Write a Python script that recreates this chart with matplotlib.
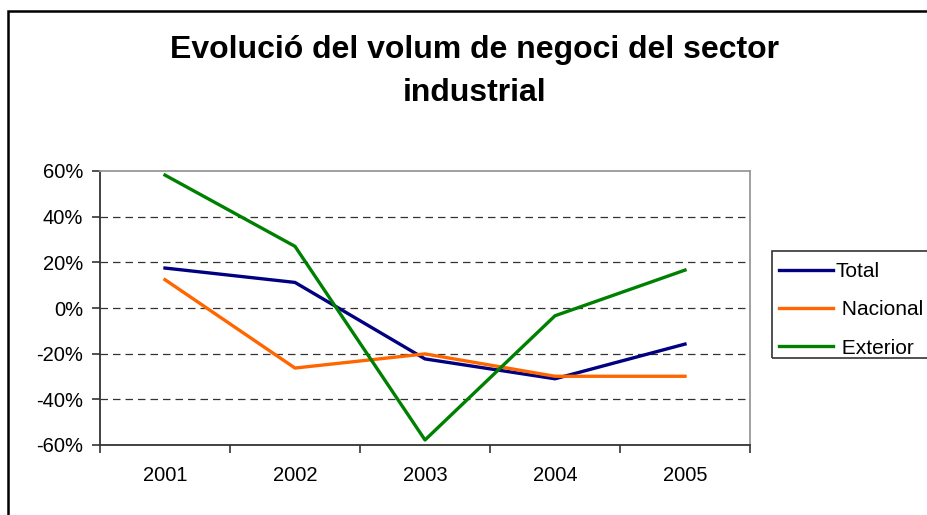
import matplotlib.pyplot as plt
from matplotlib.patches import Rectangle
from matplotlib.ticker import FixedLocator

plt.rcParams['font.family'] = ['Liberation Sans', 'DejaVu Sans']

years = ['2001', '2002', '2003', '2004', '2005']
total = [17.5, 11.2, -22.3, -31.0, -15.8]
nacional = [12.4, -26.3, -20.1, -29.9, -29.9]
exterior = [58.2, 27.0, -57.8, -3.4, 16.6]

W, H = 928, 515
fig = plt.figure(figsize=(W / 100, H / 100), dpi=100)

# outer chart border (right and bottom edges fall outside the picture)
fig.patches.append(Rectangle((8 / W, -0.05), 1.0, (H - 11) / H + 0.05,
                             transform=fig.transFigure, fill=False,
                             edgecolor='black', linewidth=1.8, clip_on=False))

ax = fig.add_axes([100 / W, 1 - 445 / H, 650 / W, 274 / H])
xs = range(len(years))
ax.plot(xs, total, color='#000080', lw=2.4, label='Total')
ax.plot(xs, nacional, color='#FF6600', lw=2.4, label=' Nacional')
ax.plot(xs, exterior, color='#008000', lw=2.4, label=' Exterior')

ax.set_xlim(-0.5, 4.5)
ax.set_ylim(-60, 60)
ax.set_yticks(range(-60, 61, 20))
ax.set_yticklabels([f'{v}%' for v in range(-60, 61, 20)], fontsize=14.5)
ax.set_xticks(list(xs))
ax.set_xticklabels(years, fontsize=14.5)
ax.tick_params(axis='x', length=0, pad=15)
ax.xaxis.set_minor_locator(FixedLocator([i - 0.5 for i in range(6)]))
ax.tick_params(axis='x', which='minor', length=6, color='#333333', width=1.2)
ax.tick_params(axis='y', length=6, color='#333333', width=1.2, pad=6)

for y in range(-40, 41, 20):
    ax.axhline(y, color='#333333', lw=0.9, ls=(0, (6, 4)), zorder=0)

ax.spines['top'].set_color('#999999')
ax.spines['right'].set_color('#999999')
ax.spines['left'].set_color('#333333')
ax.spines['bottom'].set_color('#333333')
for s in ax.spines.values():
    s.set_linewidth(1.3)

fig.text(475 / W, 1 - 50 / H, 'Evolució del volum de negoci del sector',
         ha='center', va='center', fontsize=23, fontweight='bold')
fig.text(475 / W, 1 - 93 / H, 'industrial',
         ha='center', va='center', fontsize=23, fontweight='bold')

# legend box runs past the right edge of the picture
fig.patches.append(Rectangle((772 / W, 1 - 358 / H), 0.3, 107 / H,
                             transform=fig.transFigure, fill=False,
                             edgecolor='#333333', linewidth=1.2, clip_on=False))
fig.legend(loc='upper left', bbox_to_anchor=(772 / W, 1 - 255 / H),
           fontsize=15, frameon=False, handlelength=2.6,
           handletextpad=0.1, borderpad=0.35, labelspacing=0.92,
           borderaxespad=0)

fig.savefig('out.png', dpi=100)
